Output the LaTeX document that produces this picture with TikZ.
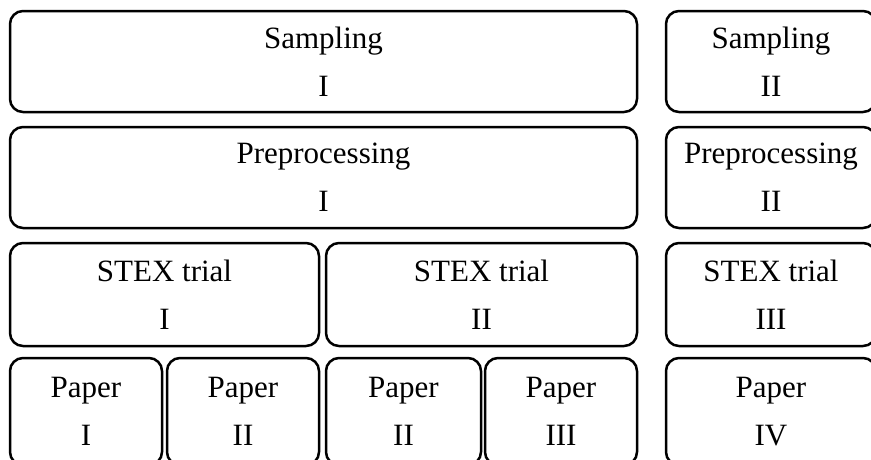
\documentclass[tikz,border=0pt]{standalone}
\usepackage{fontspec}
\setmainfont{Liberation Serif}
\tikzset{box node/.style={rectangle,rounded corners=13pt,draw,line width=2.5pt,inner sep=0pt,align=center,font=\fontsize{31}{48}\selectfont} }

\begin{document}
\begin{tikzpicture}[x=1pt,y=-1pt]
  \useasboundingbox (0,0) rectangle (871,459);
  \clip (0,0) rectangle (871,459);

  % first study
  \node[box node,minimum width=627pt,minimum height=101pt] (samp1) at (323.5,61.5) {Sampling\\I};
  \node[box node,minimum width=627pt,minimum height=101pt] (prep1) at (323.5,177.5) {Preprocessing\\I};
  \node[box node,minimum width=309pt,minimum height=103pt] (stex1) at (164.5,294.5) {STEX trial\\I};
  \node[box node,minimum width=311pt,minimum height=103pt] (stex2) at (481.5,294.5) {STEX trial\\II};
  \node[box node,minimum width=152pt,minimum height=107pt] (paper1) at (86,411.5) {Paper\\I};
  \node[box node,minimum width=152pt,minimum height=107pt] (paper2) at (243,411.5) {Paper\\II};
  \node[box node,minimum width=155pt,minimum height=107pt] (paper2b) at (403.5,411.5) {Paper\\II};
  \node[box node,minimum width=152pt,minimum height=107pt] (paper3) at (561,411.5) {Paper\\III};

  % second study
  \node[box node,minimum width=210pt,minimum height=101pt] (samp2) at (771,61.5) {Sampling\\II};
  \node[box node,minimum width=210pt,minimum height=101pt] (prep2) at (771,177.5) {Preprocessing\\II};
  \node[box node,minimum width=210pt,minimum height=103pt] (stex3) at (771,294.5) {STEX trial\\III};
  \node[box node,minimum width=210pt,minimum height=107pt] (paper4) at (771,411.5) {Paper\\IV};
\end{tikzpicture}
\end{document}
